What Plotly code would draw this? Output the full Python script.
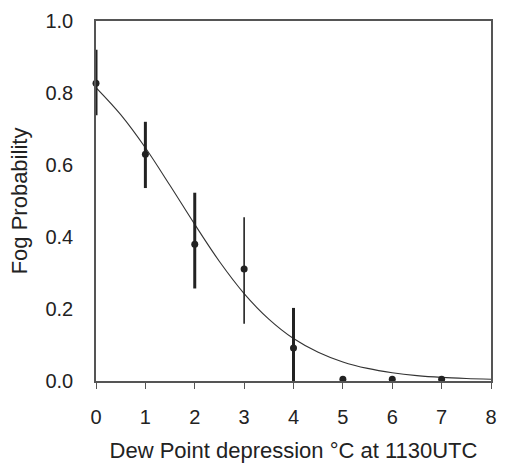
import plotly.graph_objects as go

# Observed fog probability by dew point depression
dpd = [0, 1, 2, 3, 4, 5, 6, 7]
prob = [0.827, 0.630, 0.380, 0.311, 0.092, 0.005, 0.005, 0.005]
err_up = [0.093, 0.090, 0.143, 0.144, 0.111, 0.0, 0.0, 0.0]
err_down = [0.089, 0.094, 0.123, 0.152, 0.092, 0.0, 0.0, 0.0]

# Fitted curve
curve_x = [0, 0.5, 1, 1.5, 2, 2.5, 3, 3.5, 4, 4.5, 5, 5.5, 6, 6.5, 7, 7.5, 8]
curve_y = [0.815, 0.740, 0.648, 0.543, 0.435, 0.332, 0.243, 0.172, 0.118,
           0.080, 0.053, 0.035, 0.023, 0.015, 0.010, 0.007, 0.005]

x_ticks = [0, 1, 2, 3, 4, 5, 6, 7, 8]
y_ticks = [0.0, 0.2, 0.4, 0.6, 0.8, 1.0]

ink = "#222222"
axis_col = "#555555"
font = dict(family="Liberation Sans, Arial, sans-serif", size=20, color=ink)

fig = go.Figure()

fig.add_trace(go.Scatter(
    x=curve_x, y=curve_y, mode="lines",
    line=dict(color="#333333", width=1.1, shape="spline"),
    hoverinfo="skip", showlegend=False, cliponaxis=False,
))

thin_idx = [3]
thick_idx = [i for i in range(len(dpd)) if i not in thin_idx]

for idx, th in ((thick_idx, 3), (thin_idx, 1.6)):
    fig.add_trace(go.Scatter(
        x=[dpd[i] for i in idx], y=[prob[i] for i in idx], mode="markers",
        marker=dict(color=ink, size=7),
        error_y=dict(type="data", symmetric=False,
                     array=[err_up[i] for i in idx],
                     arrayminus=[err_down[i] for i in idx],
                     color=ink, thickness=th, width=0),
        showlegend=False, cliponaxis=False,
    ))

fig.update_layout(
    width=507, height=469,
    margin=dict(l=96, r=10, t=16, b=82),
    paper_bgcolor="white", plot_bgcolor="white",
    font=font,
    xaxis=dict(
        range=[0, 8], tickvals=x_ticks, ticktext=[str(v) for v in x_ticks],
        showgrid=False, zeroline=False,
        showline=True, linecolor=axis_col, linewidth=1.5, mirror=True,
        ticks="outside", ticklen=6, tickwidth=1, tickcolor=axis_col,
        ticklabelstandoff=11,
        title=dict(text="Dew Point depression °C at 1130UTC", standoff=16,
                   font=dict(size=22)),
    ),
    yaxis=dict(
        range=[0, 1], tickvals=y_ticks, ticktext=[f"{v:.1f}" for v in y_ticks],
        showgrid=False, zeroline=False,
        showline=True, linecolor=axis_col, linewidth=1.5, mirror=True,
        ticks="", ticklabelstandoff=17,
        title=dict(text="Fog Probability", standoff=12, font=dict(size=22)),
    ),
)

fig.write_html("out.html")
